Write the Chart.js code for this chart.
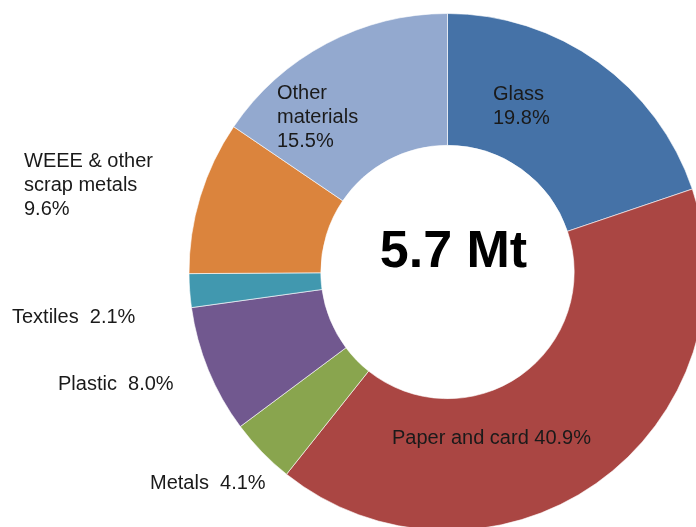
<!DOCTYPE html>
<html>
<head>
<meta charset="utf-8">
<script src="https://cdn.jsdelivr.net/npm/chart.js@4/dist/chart.umd.min.js"></script>
<style>
  html, body { margin: 0; padding: 0; background: #fff; overflow: hidden; width: 696px; height: 527px; }
  #wrap { position: absolute; left: 0; top: 13px; width: 895px; height: 518px; }
</style>
</head>
<body>
<div id="wrap"><canvas id="wasteChart" width="895" height="518"></canvas></div>
<script>
const materials = ["Glass", "Paper and card", "Metals", "Plastic", "Textiles", "WEEE & other scrap metals", "Other materials"];
const shares = [19.8, 40.9, 4.1, 8.0, 2.1, 9.6, 15.5];
const colours = ["#4572a7", "#aa4643", "#89a54e", "#71588f", "#4198af", "#db843d", "#93a9cf"];
const totalLabel = "5.7 Mt";

// label text, broken into lines the way the original shows them
const labelLines = [
  ["Glass", "19.8%"],
  ["Paper and card 40.9%"],
  ["Metals  4.1%"],
  ["Plastic  8.0%"],
  ["Textiles  2.1%"],
  ["WEEE & other", "scrap metals", "9.6%"],
  ["Other", "materials", "15.5%"]
];
// where each label's first baseline sits (page pixels)
const labelPos = [[493, 100], [392, 444], [150, 489], [58, 390], [12, 323], [24, 167], [277, 99]];

const labelPlugin = {
  id: "sliceLabels",
  afterDraw(chart) {
    const ctx = chart.ctx;
    const off = chart.canvas.getBoundingClientRect();
    ctx.save();
    ctx.fillStyle = "#1a1a1a";
    ctx.font = "20px 'Liberation Sans', Arial, sans-serif";
    ctx.textAlign = "left";
    ctx.textBaseline = "alphabetic";
    labelLines.forEach((lines, i) => {
      const [x, y] = labelPos[i];
      lines.forEach((t, j) => ctx.fillText(t, x - off.left, y - off.top + j * 24));
    });
    ctx.font = "bold 52px 'Liberation Sans', Arial, sans-serif";
    ctx.fillStyle = "#000";
    ctx.textAlign = "center";
    const arc = chart.getDatasetMeta(0).data[0];
    ctx.fillText(totalLabel, arc.x + 6, arc.y - 5);
    ctx.restore();
  }
};

new Chart(document.getElementById("wasteChart"), {
  type: "doughnut",
  data: {
    labels: materials,
    datasets: [{
      data: shares,
      backgroundColor: colours,
      borderColor: "rgba(255,255,255,0.6)",
      borderWidth: 1
    }]
  },
  options: {
    responsive: false,
    animation: false,
    cutout: "49%",
    layout: { padding: 0 },
    plugins: {
      legend: { display: false },
      tooltip: { enabled: false }
    }
  },
  plugins: [labelPlugin]
});
</script>
</body>
</html>
